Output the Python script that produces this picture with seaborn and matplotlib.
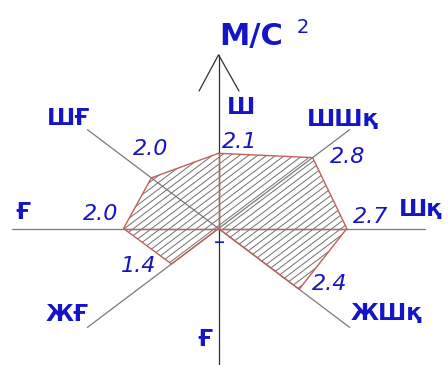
import numpy as np
import pandas as pd
import matplotlib.pyplot as plt
from matplotlib.collections import LineCollection
import seaborn as sns

# wind directions (Kazakh), their angles and values in m/s^2
directions = ["Ш", "ШШқ", "Шқ", "ЖШқ", "Ғ", "ЖҒ", "Ғ", "ШҒ"]
angles_deg = [90, 45, 0, -45, -90, -135, 180, 135]
values = [2.1, 2.8, 2.7, 2.4, 0.0, 1.4, 2.0, 2.0]
value_labels = ["2.1", "2.8", "2.7", "2.4", "–", "1.4", "2.0", "2.0"]
unit = "М/С"

# label positions (data coords)
dir_pos = [(0.47, 3.39), (2.62, 3.03), (4.25, 0.52), (3.53, -2.36),
           (-0.28, -3.09), (-3.19, -2.39), (-4.12, 0.46), (-3.15, 3.06)]
val_pos = [(0.45, 2.42), (2.71, 2.0), (3.21, 0.32), (2.33, -1.55),
           (0.01, -0.38), (-1.69, -1.05), (-2.49, 0.41), (-1.44, 2.22)]

sns.set_theme(style="white")

blue = "#1414c8"
red = "#c0605a"
gray = "#7a7a7a"

ang = np.deg2rad(angles_deg)
poly = pd.DataFrame({"x": np.array(values) * np.cos(ang),
                     "y": np.array(values) * np.sin(ang)})
poly = pd.concat([poly, poly.iloc[:1]], ignore_index=True)

fig = plt.figure(figsize=(4.48, 3.65), dpi=100)
ax = fig.add_axes([0, 0, 1, 1])

# axis lines
ax.plot([-4.35, 4.35], [0, 0], color=gray, lw=0.9)
ax.plot([0, 0], [-3.9, 4.85], color="#303030", lw=0.9)
ax.plot([-0.41, 0, 0.43], [3.84, 4.85, 3.84], color="#303030", lw=0.9)
ax.plot([-2.76, 2.76], [2.76, -2.76], color=gray, lw=0.9)
ax.plot([-2.76, 2.76], [-2.76, 2.76], color=gray, lw=0.9)

# hatching (45 deg in data space), clipped to the polygon
area = ax.fill(poly["x"], poly["y"], fill=False, lw=0)[0]
offs = np.arange(-6, 6, 0.19)
hatch = LineCollection([[(-4, -4 + c), (4, 4 + c)] for c in offs],
                       colors="#707070", linewidths=0.7)
ax.add_collection(hatch)
hatch.set_clip_path(area)

# red outline
sns.lineplot(data=poly, x="x", y="y", sort=False, estimator=None,
             color=red, lw=1.0, ax=ax)
ax.plot([poly["x"][6], poly["x"][2]], [0, 0], color=red, lw=1.0)
ax.plot([0, 0], [0, poly["y"][0]], color=red, lw=1.0)
ax.set_xlim(-4.6, 4.83)
ax.set_ylim(-3.81, 6.38)
ax.axis("off")

for name, (x, y) in zip(directions, dir_pos):
    ax.text(x, y, name, color=blue, fontsize=16.5, fontweight="bold",
            ha="center", va="center")
for lab, (x, y) in zip(value_labels, val_pos):
    ax.text(x, y, lab, color=blue, fontsize=16, style="italic",
            ha="center", va="center")

ax.text(0.68, 5.35, unit, color=blue, fontsize=22, fontweight="bold",
        ha="center", va="center")
ax.text(1.78, 5.6, "2", color=blue, fontsize=14, ha="center", va="center")

fig.savefig("out.png", dpi=100)
